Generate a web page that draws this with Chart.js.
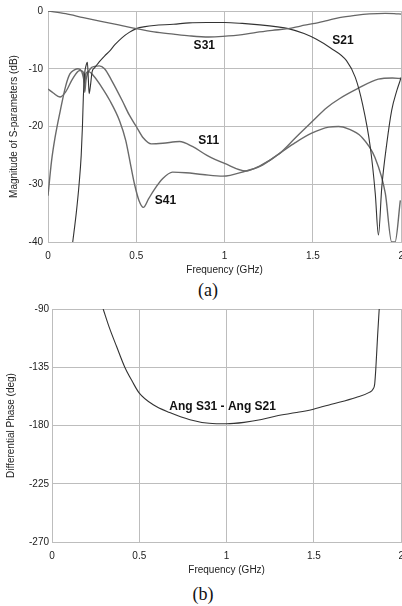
<!DOCTYPE html>
<html>
<head>
<meta charset="utf-8">
<script src="https://cdn.jsdelivr.net/npm/chart.js@4.4.0/dist/chart.umd.min.js"></script>
<style>
  html, body { margin: 0; padding: 0; background: #fff; overflow: hidden; width: 402px; height: 606px; }
  .box { position: absolute; left: 0; width: 412px; height: 276px; }
  .cap { position: absolute; font-family: "Liberation Serif", "Times New Roman", serif; font-size: 18px; color: #111; transform: translateX(-50%); }
</style>
</head>
<body>
<div class="box" style="top:0"><canvas id="magChart"></canvas></div>
<div class="cap" style="left:208px; top:280px">(a)</div>
<div class="box" style="top:300px"><canvas id="phaseChart"></canvas></div>
<div class="cap" style="left:203px; top:584px">(b)</div>
<script>
// S-parameter magnitudes (dB) vs frequency (GHz)
const s31F  = [0, 0.1, 0.2, 0.3, 0.4, 0.5, 0.6, 0.71, 0.8, 0.91, 0.99, 1.1, 1.18, 1.27, 1.36, 1.43, 1.5, 1.58, 1.65, 1.74, 1.82, 1.91, 1.96, 2.0];
const s31Db = [0, -0.45, -1.15, -1.8, -2.4, -3.05, -3.6, -4.0, -4.3, -4.5, -4.4, -4.1, -3.7, -3.35, -3.05, -2.6, -2.2, -1.65, -1.15, -0.75, -0.5, -0.4, -0.45, -0.55];

const s21F  = [0.14, 0.16, 0.176, 0.188, 0.195, 0.2, 0.207, 0.215, 0.223, 0.228, 0.233, 0.24, 0.25, 0.265, 0.29, 0.32, 0.35, 0.38, 0.42, 0.46, 0.5, 0.55, 0.6, 0.71, 0.8, 0.9, 1.0, 1.1, 1.2, 1.3, 1.36, 1.45, 1.52, 1.6, 1.69, 1.74, 1.78, 1.825, 1.853, 1.871, 1.89, 1.918, 1.946, 1.975, 2.0];
const s21Db = [-40, -35, -30, -25, -20, -15, -11, -9.5, -8.9, -11.5, -14.3, -13, -10.5, -9.8, -8.8, -7.8, -6.9, -5.8, -4.6, -3.7, -3.05, -2.7, -2.5, -2.3, -2.05, -2.0, -2.0, -2.15, -2.4, -2.75, -3.05, -3.9, -4.9, -6.4, -8.6, -11.5, -16, -23.6, -31.6, -38.8, -30.5, -23, -17.2, -13.8, -11.5];

const s11F  = [0, 0.03, 0.068, 0.1, 0.14, 0.18, 0.2, 0.208, 0.215, 0.24, 0.265, 0.29, 0.32, 0.36, 0.42, 0.46, 0.5, 0.54, 0.585, 0.65, 0.745, 0.82, 0.9, 1.0, 1.12, 1.2, 1.31, 1.4, 1.49, 1.58, 1.65, 1.75, 1.87, 1.95, 2.0];
const s11Db = [-13.5, -14.2, -14.9, -14, -11.7, -10.3, -10.6, -14.1, -12, -10, -9.6, -9.5, -10, -12, -15.5, -18, -20, -22, -23, -22.9, -22.6, -23.5, -25, -26.4, -27.7, -26.8, -24.7, -22, -19.3, -16.7, -15.2, -13.5, -11.8, -11.6, -11.7];

const s41F  = [0, 0.02, 0.04, 0.07, 0.1, 0.124, 0.15, 0.17, 0.19, 0.2, 0.208, 0.215, 0.23, 0.26, 0.3, 0.35, 0.405, 0.44, 0.47, 0.49, 0.515, 0.54, 0.57, 0.6, 0.65, 0.705, 0.78, 0.875, 0.99, 1.12, 1.2, 1.31, 1.4, 1.49, 1.59, 1.645, 1.7, 1.775, 1.85, 1.91, 1.946, 1.965, 1.995];
const s41Db = [-32, -26, -21.9, -17.2, -13, -10.9, -10.2, -10, -10.4, -11.5, -12.5, -10.8, -10.5, -11.3, -13, -15.5, -19, -22.4, -27, -30, -32.8, -34, -32.5, -31, -29, -27.9, -28, -28.3, -28.6, -27.7, -26.9, -24.7, -22.8, -21.2, -20.1, -20.0, -20.4, -21.8, -25.3, -31.6, -40, -40, -32.8];

// Differential phase (deg)
const phaseF   = [0.293, 0.33, 0.37, 0.417, 0.46, 0.5, 0.58, 0.674, 0.79, 0.9, 1.0, 1.1, 1.2, 1.284, 1.4, 1.497, 1.6, 1.741, 1.817, 1.838, 1.848, 1.855, 1.865, 1.874];
const phaseDeg = [-90, -105, -119, -135, -146, -155, -164, -170, -175.5, -178.3, -178.7, -177.6, -175.4, -172.6, -170, -167.4, -163.6, -158.3, -154.4, -152, -148, -135, -110, -90];

const pts = (xs, ys) => xs.map((x, i) => ({ x: x, y: ys[i] }));

Chart.defaults.font.family = '"Liberation Sans", Arial, sans-serif';
Chart.defaults.color = '#222';

const curveLabels = {
    id: 'curveLabels',
    afterDatasetsDraw(chart, args, opts) {
        const ctx = chart.ctx, xs = chart.scales.x, ys = chart.scales.y;
        ctx.save();
        ctx.font = 'bold 12px "Liberation Sans", Arial, sans-serif';
        ctx.fillStyle = '#111';
        ctx.textAlign = 'center';
        ctx.textBaseline = 'middle';
        (opts.items || []).forEach(l => ctx.fillText(l.text, xs.getPixelForValue(l.f), ys.getPixelForValue(l.v)));
        ctx.restore();
    }
};

function line(data, color, w) {
    return { data: data, borderColor: color, borderWidth: w, pointRadius: 0, fill: false,
             cubicInterpolationMode: 'monotone' };
}

function axes(yMin, yMax, step, yTitle, yWidth, tickPad) {
    const grid = { color: '#bdbdbd', drawTicks: false };
    return {
        x: {
            type: 'linear', min: 0, max: 2,
            ticks: { stepSize: 0.5, padding: 8, font: { size: 10 }, callback: v => String(v) },
            grid: grid, border: { color: '#bdbdbd' },
            title: { display: true, text: 'Frequency (GHz)', font: { size: 10 }, padding: { top: 2, bottom: 0 } },
            afterFit: s => { s.height = 34; }
        },
        y: {
            min: yMin, max: yMax,
            ticks: { stepSize: step, padding: tickPad, font: { size: 10 } },
            grid: grid, border: { color: '#bdbdbd' },
            title: { display: true, text: yTitle, font: { size: 10 }, padding: { top: 4, bottom: 0 } },
            afterFit: s => { s.width = yWidth; }
        }
    };
}

new Chart(document.getElementById('magChart'), {
    type: 'line',
    data: {
        datasets: [
            line(pts(s31F, s31Db), '#666', 1.3),
            line(pts(s21F, s21Db), '#333', 1.1),
            line(pts(s11F, s11Db), '#6a6a6a', 1.4),
            line(pts(s41F, s41Db), '#6a6a6a', 1.4)
        ]
    },
    options: {
        responsive: true, maintainAspectRatio: false, animation: false,
        layout: { padding: { top: 4, left: 4, right: 0, bottom: 0 } },
        scales: axes(-40, 0, 10, 'Magnitude of S-parameters (dB)', 44, 5),
        plugins: {
            legend: { display: false }, tooltip: { enabled: false },
            curveLabels: { items: [
                { text: 'S31', f: 0.885, v: -6.0 },
                { text: 'S21', f: 1.67, v: -5.2 },
                { text: 'S11', f: 0.91, v: -22.4 },
                { text: 'S41', f: 0.665, v: -32.8 }
            ] }
        }
    },
    plugins: [curveLabels]
});

new Chart(document.getElementById('phaseChart'), {
    type: 'line',
    data: { datasets: [ line(pts(phaseF, phaseDeg), '#333', 1.1) ] },
    options: {
        responsive: true, maintainAspectRatio: false, animation: false,
        layout: { padding: { top: 4, left: 1, right: 0, bottom: 0 } },
        scales: axes(-270, -90, 45, 'Differential Phase (deg)', 51, 3),
        plugins: {
            legend: { display: false }, tooltip: { enabled: false },
            curveLabels: { items: [ { text: 'Ang S31 - Ang S21', f: 0.977, v: -165.3 } ] }
        }
    },
    plugins: [curveLabels]
});
</script>
</body>
</html>
